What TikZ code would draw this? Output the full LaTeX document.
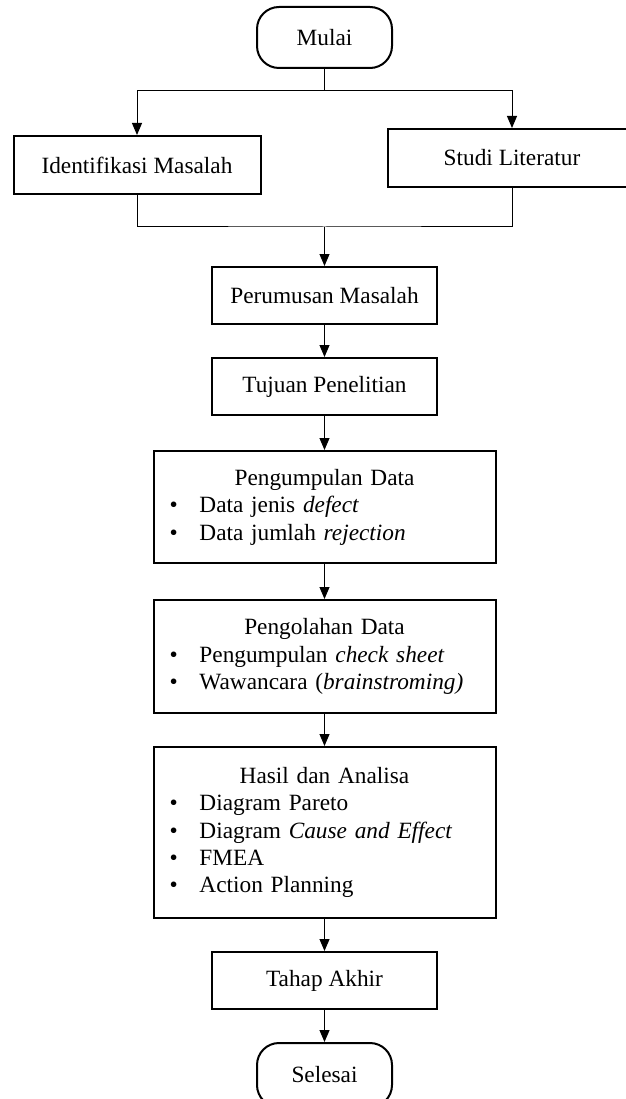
\documentclass[tikz,border=0pt]{standalone}
\usepackage{fontspec}
\setmainfont{Liberation Serif}
\usetikzlibrary{arrows.meta}
\setlength{\parindent}{0pt}
\newcommand{\butir}{\hspace*{16pt}\makebox[30pt][l]{\textbullet}}
\tikzset{
	kotak/.style={draw, line width=2pt, inner sep=0pt, minimum height=57pt},
	ujung/.style={draw, line width=2pt, rounded corners=22pt, minimum width=135pt, minimum height=61pt},
	panah/.style={-{Triangle[width=10pt,length=12pt]}, line width=1pt},
	garis/.style={line width=1pt}
}
\begin{document}
\begin{tikzpicture}[x=1pt, y=-1pt, every node/.style={font=\fontsize{23.3pt}{27.4pt}\selectfont}]
		\useasboundingbox (0,0) rectangle (625,1099);
		\node[ujung] (mulai) at (324.5,37.5) {Mulai};
		\node[kotak, minimum width=247pt, minimum height=58pt] (identifikasi) at (137,165) {Identifikasi Masalah};
		\node[kotak, minimum width=248pt, minimum height=58pt] (studi) at (512,158) {Studi Literatur};
		\node[kotak, minimum width=225pt] (rumusan) at (324.5,295.5) {Perumusan Masalah};
		\node[kotak, minimum width=225pt] (tujuan) at (324.5,386.5) {Tujuan Penelitian};
		\node[kotak, text width=342pt, minimum height=112pt] (kumpul) at (324.5,507) {\centering Pengumpulan Data\par\raggedright
			\butir Data jenis \textit{defect}\par
			\butir Data jumlah \textit{rejection}};
		\node[kotak, text width=342pt, minimum height=113pt] (olah) at (324.5,656.5) {\centering Pengolahan Data\par\raggedright
			\butir Pengumpulan \textit{check sheet}\par
			\butir Wawancara (\textit{brainstroming)}};
		\node[kotak, text width=342pt, minimum height=171pt] (hasil) at (324.5,832.5) {\centering Hasil dan Analisa\par\raggedright
			\butir Diagram Pareto\par
			\butir Diagram \textit{Cause and Effect}\par
			\butir FMEA\par
			\butir Action Planning};
		\node[kotak, minimum width=225pt] (akhir) at (324.5,980.5) {Tahap Akhir};
		\node[ujung, minimum height=64pt] (selesai) at (324.5,1075) {Selesai};
		\coordinate (cabang) at (324.5,91);
		\coordinate (gabung) at (324.5,227);
		\draw[garis] (mulai) -- (cabang);
		\draw[panah] (cabang) -| (identifikasi.north);
		\draw[panah] (cabang) -| (studi.north);
		\draw[garis] (identifikasi.south) |- (gabung) -| (studi.south);
		\draw[panah] (gabung) -- (rumusan);
		\draw[panah] (rumusan) -- (tujuan);
		\draw[panah] (tujuan) -- (kumpul);
		\draw[panah] (kumpul) -- (olah);
		\draw[panah] (olah) -- (hasil);
		\draw[panah] (hasil) -- (akhir);
		\draw[panah] (akhir) -- (selesai);
		\end{tikzpicture}
\end{document}
